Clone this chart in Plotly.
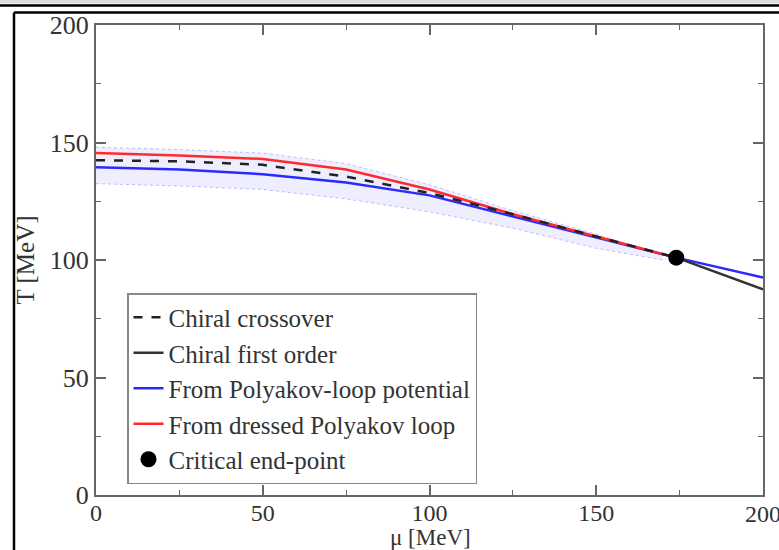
import plotly.graph_objects as go

# ---- data ----
mu_cross = [0, 25, 50, 75, 100, 125, 150, 174]
T_cross = [142.5, 142, 140.5, 135.5, 128.5, 119.5, 110, 101]

mu_first = [174, 200]
T_first = [101, 87.5]

mu_poly = [0, 25, 50, 75, 100, 125, 150, 174, 200]
T_poly = [139.5, 138.5, 136.5, 133, 127.5, 118.5, 109.5, 101, 92.5]

mu_dressed = [0, 25, 50, 75, 100, 125, 150, 174]
T_dressed = [145.5, 144.5, 143, 138.5, 130, 119.5, 110, 101]

mu_band = [0, 25, 50, 75, 100, 125, 150, 170]
T_band_up = [148, 147, 145.5, 141, 132, 121, 111, 102]
T_band_lo = [132.5, 131.5, 130, 126, 120.5, 113.5, 105, 100]

mu_cep = [174]
T_cep = [101]

x_ticks = [0, 50, 100, 150, 200]
y_ticks = [0, 50, 100, 150, 200]

FONT = "Liberation Serif"
TXT = "#333333"

fig = go.Figure()

# uncertainty band
fig.add_trace(go.Scatter(x=mu_band, y=T_band_lo, mode="lines",
                         line=dict(color="rgba(140,140,255,0.55)", width=1, dash="dot"),
                         showlegend=False, hoverinfo="skip"))
fig.add_trace(go.Scatter(x=mu_band, y=T_band_up, mode="lines",
                         line=dict(color="rgba(140,140,255,0.55)", width=1, dash="dot"),
                         fill="tonexty", fillcolor="rgba(205,205,255,0.35)",
                         showlegend=False, hoverinfo="skip"))

fig.add_trace(go.Scatter(x=mu_poly, y=T_poly, mode="lines", name="From Polyakov-loop potential",
                         line=dict(color="#2a2aff", width=2.5), legendrank=3))
fig.add_trace(go.Scatter(x=mu_dressed, y=T_dressed, mode="lines", name="From dressed Polyakov loop",
                         line=dict(color="#ff2a2a", width=2.5), legendrank=4))
fig.add_trace(go.Scatter(x=mu_cross, y=T_cross, mode="lines", name="Chiral crossover",
                         line=dict(color="#222222", width=2.5, dash="dash"), legendrank=1))
fig.add_trace(go.Scatter(x=mu_first, y=T_first, mode="lines", name="Chiral first order",
                         line=dict(color="#333333", width=2.5), legendrank=2))
fig.add_trace(go.Scatter(x=mu_cep, y=T_cep, mode="markers", name="Critical end-point",
                         marker=dict(color="black", size=16), legendrank=5))

axis_common = dict(
    showgrid=False, zeroline=False, automargin=False,
    showline=True, linecolor="#666666", linewidth=2, mirror="ticks",
    ticks="inside", ticklen=10, tickwidth=1.5, tickcolor="#666666",
    minor=dict(ticks="inside", ticklen=5, tickwidth=1.2, tickcolor="#666666", dtick=25),
)

fig.update_xaxes(range=[0, 200], tickvals=x_ticks[:-1], ticktext=[str(v) for v in x_ticks[:-1]],
                 tickfont=dict(family=FONT, size=24, color=TXT), ticklabelstandoff=-5,
                 **axis_common)
fig.update_yaxes(range=[0, 200], tickvals=y_ticks, ticktext=[str(v) for v in y_ticks],
                 tickfont=dict(family=FONT, size=26, color=TXT),
                 title=dict(text="T [MeV]", font=dict(family=FONT, size=25, color=TXT), standoff=8),
                 **axis_common)

W, H = 779, 550
L, R, T, B = 96, 16, 25, 55
pw, ph = W - L - R, H - T - B

def px(x):
    return (x - L) / pw

def py(y):
    return (H - B - y) / ph

# last x tick label sits partly outside the page in the reference
fig.add_annotation(x=x_ticks[-1], y=0, xref="x", yref="paper", yanchor="top", yshift=-4,
                   text=str(x_ticks[-1]), showarrow=False,
                   font=dict(family=FONT, size=24, color=TXT))
# x axis title, placed low like in the reference
fig.add_annotation(x=px(430), y=py(537), xref="paper", yref="paper", yanchor="middle",
                   text="μ [MeV]", showarrow=False,
                   font=dict(family=FONT, size=23, color=TXT))

shapes = [
    dict(type="rect", xref="paper", yref="paper", x0=px(0), x1=px(W), y0=py(3.5), y1=py(0),
         fillcolor="#dddddd", line=dict(width=0), layer="above"),
    dict(type="line", xref="paper", yref="paper", x0=px(0), x1=px(W), y0=py(5.5), y1=py(5.5),
         line=dict(color="black", width=2.5)),
    dict(type="line", xref="paper", yref="paper", x0=px(14), x1=px(W), y0=py(12.5), y1=py(12.5),
         line=dict(color="black", width=2.5)),
    dict(type="line", xref="paper", yref="paper", x0=px(14), x1=px(14), y0=py(12.5), y1=py(H),
         line=dict(color="black", width=2.5)),
]

fig.update_layout(
    width=W, height=H,
    margin=dict(l=L, r=R, t=T, b=B, autoexpand=False),
    paper_bgcolor="white", plot_bgcolor="white",
    shapes=shapes,
    legend=dict(x=px(127), y=py(293), xanchor="left", yanchor="top",
                bgcolor="white", bordercolor="#888888", borderwidth=1.5,
                font=dict(family=FONT, size=25, color=TXT),
                traceorder="normal", tracegroupgap=0, itemwidth=30),
    showlegend=True,
)

fig.write_html("out.html")
